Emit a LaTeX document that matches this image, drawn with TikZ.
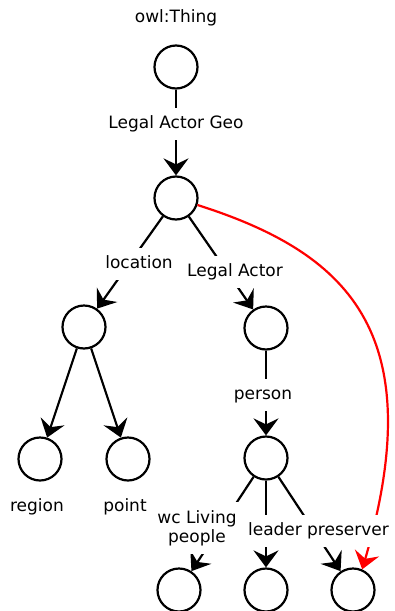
\documentclass[tikz,border=0pt]{standalone}
\usepackage{fontspec}
\setmainfont{DejaVu Sans}
\usetikzlibrary{arrows.meta}
\begin{document}
\begin{tikzpicture}[x=1pt,y=-1pt,
  cls/.style={circle,draw,line width=2.2pt,minimum size=43pt,inner sep=0pt},
  edge/.style={line width=2.2pt,-{Stealth[length=17pt,width=25pt,inset=6pt]}},
  redge/.style={line width=2.2pt,red,-{Stealth[length=17pt,width=25pt,inset=6pt]}},
  lbl/.style={fill=white,inner xsep=3pt,inner ysep=8pt,text height=12.5pt,text depth=4pt,font=\fontsize{17}{19}\selectfont},
  lbltwo/.style={fill=white,inner xsep=3pt,inner ysep=8pt,align=center,font=\fontsize{17}{19}\selectfont},
  txt/.style={inner sep=0pt,text height=12.5pt,text depth=4pt,font=\fontsize{17}{19}\selectfont}]
\useasboundingbox (0,0) rectangle (394,611);
% classes
\node[cls] (top) at (176,67) {};
\node[cls] (lag) at (176,198) {};
\node[cls] (loc) at (84,327) {};
\node[cls] (la) at (266,328) {};
\node[cls] (region) at (40,459) {};
\node[cls] (point) at (128,459) {};
\node[cls] (person) at (266,458) {};
\node[cls] (wc) at (179,590) {};
\node[cls] (leader) at (266,590) {};
\node[cls] (pres) at (353,590) {};
% edges
\draw[edge] (top) -- (lag);
\draw[edge] (lag) -- (loc);
\draw[edge] (lag) -- (la);
\draw[edge] (loc) -- (region);
\draw[edge] (loc) -- (point);
\draw[edge] (la) -- (person);
\draw[edge] (person) -- (wc);
\draw[edge] (person) -- (leader);
\draw[edge] (person) -- (pres);
\draw[redge] (lag.-18) .. controls (345,252) and (432,330) .. (pres.66);
% labels
\node[txt] (tthing) at (176,18) {owl:Thing};
\node[lbl] (llag) at (176,124) {Legal Actor Geo};
\node[lbl] (lloc) at (139,264) {location};
\node[lbl] (lla) at (235,272) {Legal Actor};
\node[txt] (tregion) at (37,507) {region};
\node[txt] (tpoint) at (125,507) {point};
\node[lbl] (lperson) at (263,395) {person};
\node[lbltwo] (lwc) at (197,528) {wc Living\\people};
\node[lbl] (lleader) at (275,531) {leader};
\node[lbl] (lpres) at (348,531) {preserver};
\end{tikzpicture}
\end{document}
